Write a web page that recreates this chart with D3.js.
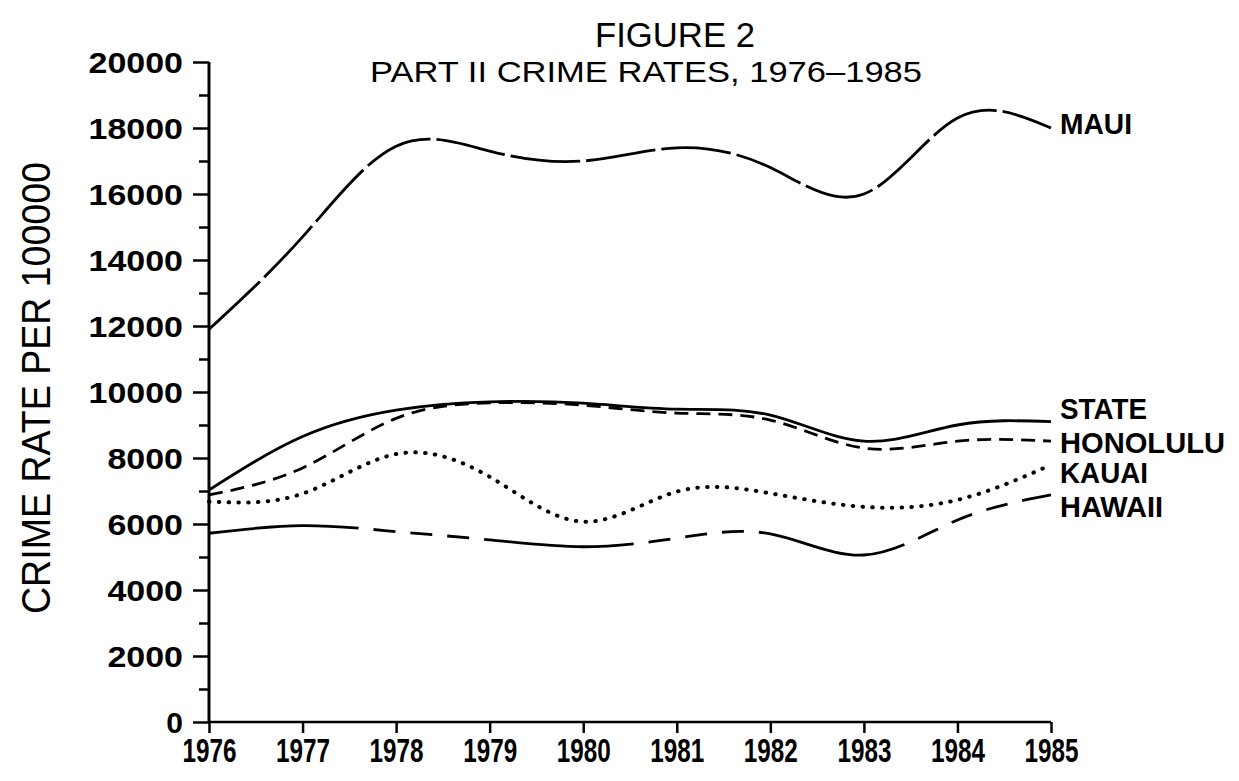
<!DOCTYPE html>
<html>
<head>
<meta charset="utf-8">
<script src="https://cdn.jsdelivr.net/npm/d3@7"></script>
<style>
  html, body { margin: 0; padding: 0; background: #fff; }
  svg { display: block; }
  text { fill: #000; font-family: "Liberation Sans", Arial, Helvetica, sans-serif; }
</style>
</head>
<body>
<svg id="chart" width="1239" height="781"></svg>
<script>
// ---- data ----
const years = [1976, 1977, 1978, 1979, 1980, 1981, 1982, 1983, 1984, 1985];
const maui     = [11900, 14700, 17450, 17300, 17000, 17400, 16800, 16000, 18300, 18000];
const state    = [7030, 8650, 9450, 9700, 9660, 9480, 9300, 8510, 9000, 9100];
const honolulu = [6880, 7700, 9200, 9670, 9600, 9360, 9150, 8300, 8510, 8510];
const kauai    = [6680, 6920, 8120, 7430, 6070, 6980, 6930, 6520, 6730, 7790];
const hawaii   = [5720, 5950, 5770, 5520, 5310, 5570, 5700, 5060, 6120, 6880];
const seriesNames = ["MAUI", "STATE", "HONOLULU", "KAUAI", "HAWAII"];
const yTickValues = [0, 2000, 4000, 6000, 8000, 10000, 12000, 14000, 16000, 18000, 20000];
const yMinorTicks = [1000, 3000, 5000, 7000, 9000, 11000, 13000, 15000, 17000, 19000];
const yTickLabels = ["0", "2000", "4000", "6000", "8000", "10000", "12000", "14000", "16000", "18000", "20000"];
const titleText = "FIGURE 2";
const subtitleText = "PART II CRIME RATES, 1976\u20131985";
const yAxisTitle = "CRIME RATE PER 100000";

// ---- layout ----
const svg = d3.select("#chart");
const x = d3.scaleLinear().domain([1976, 1985]).range([209, 1051]);
const y = d3.scaleLinear().domain([0, 20000]).range([722, 62]);

// titles
svg.append("text").attr("x", 675).attr("y", 47).attr("text-anchor", "middle")
  .attr("font-size", 35).attr("textLength", 160).attr("lengthAdjust", "spacingAndGlyphs")
  .text(titleText);
svg.append("text").attr("x", 370).attr("y", 82)
  .attr("font-size", 30).attr("textLength", 552).attr("lengthAdjust", "spacingAndGlyphs")
  .text(subtitleText);

// y axis title
svg.append("text")
  .attr("transform", "translate(50,388) rotate(-90)")
  .attr("text-anchor", "middle")
  .attr("font-size", 41).attr("textLength", 452).attr("lengthAdjust", "spacingAndGlyphs")
  .text(yAxisTitle);

// y axis (major)
const yAxis = svg.append("g").attr("transform", "translate(209,0)")
  .call(d3.axisLeft(y).tickValues(yTickValues).tickSize(16).tickPadding(10)
    .tickFormat((d, i) => yTickLabels[i]));
yAxis.select(".domain").attr("stroke", "#000").attr("stroke-width", 3).attr("d", `M0,${y(20000)}V${y(0)}`);
yAxis.selectAll(".tick line").attr("stroke", "#000").attr("stroke-width", 2.5);
yAxis.selectAll(".tick text")
  .attr("font-size", 30).attr("font-weight", "bold")
  .attr("font-family", "'Liberation Sans', Arial, sans-serif")
  .attr("dy", "0.36em")
  .each(function(d, i) {
    const t = yTickLabels[i];
    if (t.length > 1) d3.select(this).attr("textLength", 18.9 * t.length).attr("lengthAdjust", "spacingAndGlyphs");
  });

// y axis minor
const yMinor = svg.append("g").attr("transform", "translate(209,0)")
  .call(d3.axisLeft(y).tickValues(yMinorTicks).tickSize(10).tickFormat(""));
yMinor.select(".domain").remove();
yMinor.selectAll(".tick line").attr("stroke", "#000").attr("stroke-width", 2.5);

// x axis
const xAxis = svg.append("g").attr("transform", "translate(0,722)")
  .call(d3.axisBottom(x).tickValues(years).tickSize(11).tickFormat(d3.format("d")));
xAxis.select(".domain").attr("stroke", "#000").attr("stroke-width", 2.5).attr("d", `M${x(1976)},0H${x(1985)}`);
xAxis.selectAll(".tick line").attr("stroke", "#000").attr("stroke-width", 2.5);
xAxis.selectAll(".tick text")
  .attr("font-size", 34).attr("font-weight", "bold")
  .attr("font-family", "'Liberation Sans', Arial, sans-serif")
  .attr("y", 40).attr("dy", 0)
  .attr("textLength", 54).attr("lengthAdjust", "spacingAndGlyphs");

// ---- lines ----
const line = d3.line().x((d, i) => x(years[i])).y(d => y(d)).curve(d3.curveNatural);
const seriesData = [maui, state, honolulu, kauai, hawaii];
const styles = [
  { dash: "70 6", width: 2.8, cap: "butt" },
  { dash: null, width: 2.8, cap: "butt" },
  { dash: "14 8", width: 2.8, cap: "butt" },
  { dash: "0.5 9.3", width: 4, cap: "round" },
  { dash: "150 15 22 15 22 15 22 15", width: 2.8, cap: "butt" }
];
seriesData.forEach((vals, k) => {
  const p = svg.append("path").datum(vals)
    .attr("d", line).attr("fill", "none").attr("stroke", "#000")
    .attr("stroke-width", styles[k].width).attr("stroke-linecap", styles[k].cap);
  if (styles[k].dash) p.attr("stroke-dasharray", styles[k].dash);
});

// series labels
const labelPos = [
  { baseline: 134, len: 72 },
  { baseline: 419, len: 87 },
  { baseline: 453, len: 165 },
  { baseline: 483, len: 88 },
  { baseline: 517, len: 103 }
];
seriesNames.forEach((n, k) => {
  svg.append("text").attr("x", 1060).attr("y", labelPos[k].baseline)
    .attr("font-size", 30).attr("font-weight", "bold")
    .attr("textLength", labelPos[k].len).attr("lengthAdjust", "spacingAndGlyphs")
    .text(n);
});
</script>
</body>
</html>
